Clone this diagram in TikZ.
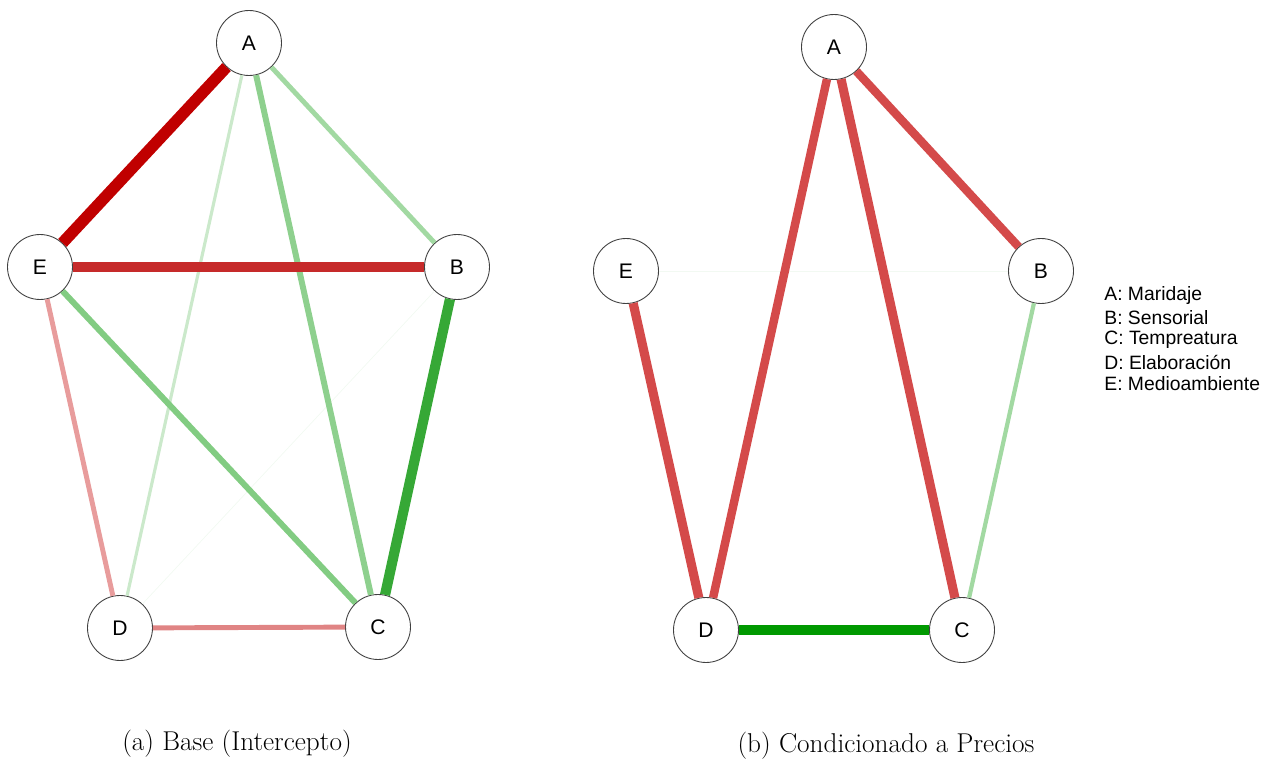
\documentclass[tikz,border=0pt]{standalone}
\usepackage{fontspec}
\usepackage{xcolor}
\newfontfamily\arialfont{Liberation Sans}

\definecolor{darkred}{HTML}{C00000}
\definecolor{midred}{HTML}{C62A2A}
\definecolor{softred}{HTML}{D44A4A}
\definecolor{pinkA}{HTML}{E89C9C}
\definecolor{pinkB}{HTML}{E08484}
\definecolor{strgreen}{HTML}{36A836}
\definecolor{puregreen}{HTML}{009900}
\definecolor{lgreenA}{HTML}{8ED08E}
\definecolor{lgreenB}{HTML}{A2D9A2}
\definecolor{lgreenC}{HTML}{82CC82}
\definecolor{lgreenD}{HTML}{CBE9CB}

\begin{document}
\begin{tikzpicture}[x=0.02cm,y=-0.02cm, every node/.style={font=\arialfont\fontsize{11}{13}\selectfont},
  vertex/.style={circle,draw=black!75,fill=white,line width=0.5pt,minimum size=1.3cm,inner sep=0pt,
    font=\arialfont\fontsize{12}{14}\selectfont},
  link/.style={line width=#1}]
  \useasboundingbox (0,0) rectangle (1261,759);

  % (a) base
  \node[vertex] (aA) at (249,43) {A};
  \node[vertex] (aE) at (40,267) {E};
  \node[vertex] (aB) at (457,267) {B};
  \node[vertex] (aD) at (120,628) {D};
  \node[vertex] (aC) at (378,627) {C};

  \draw[link=0.4pt,lgreenD!25] (aD) -- (aB);
  \draw[link=1.8pt,lgreenD] (aA) -- (aD);
  \draw[link=2.8pt,pinkA] (aE) -- (aD);
  \draw[link=2.8pt,pinkB] (aD) -- (aC);
  \draw[link=2.8pt,lgreenB] (aA) -- (aB);
  \draw[link=3.4pt,lgreenA] (aA) -- (aC);
  \draw[link=3.4pt,lgreenC] (aE) -- (aC);
  \draw[link=5.8pt,strgreen] (aB) -- (aC);
  \draw[link=5.4pt,midred] (aE) -- (aB);
  \draw[link=6.6pt,darkred] (aE) -- (aA);

  % (b) precios
  \node[vertex] (bA) at (834,47) {A};
  \node[vertex] (bE) at (626,271) {E};
  \node[vertex] (bB) at (1041,271) {B};
  \node[vertex] (bD) at (706,630) {D};
  \node[vertex] (bC) at (962,630) {C};

  \draw[link=0.4pt,lgreenD!25] (bE) -- (bB);
  \draw[link=2.4pt,lgreenB] (bB) -- (bC);
  \draw[link=5.2pt,softred] (bE) -- (bD);
  \draw[link=4.8pt,softred] (bA) -- (bD);
  \draw[link=5.2pt,softred] (bA) -- (bC);
  \draw[link=4.8pt,softred] (bA) -- (bB);
  \draw[link=5.2pt,puregreen] (bD) -- (bC);

  % legend
  \foreach \y/\txt [count=\i] in {296/{A: Maridaje},318/{B: Sensorial},340/{C: Tempreatura},
      362/{D: Elaboración},384/{E: Medioambiente}} {
    \node[anchor=west,inner sep=0pt] (leg\i) at (1104,\y) {\txt};
  }

  % captions
  \node[font=\fontsize{15.5}{18}\selectfont] (capa) at (237,744) {(a) Base (Intercepto)};
  \node[font=\fontsize{15.5}{18}\selectfont] (capb) at (886,746) {(b) Condicionado a Precios};
\end{tikzpicture}
\end{document}
